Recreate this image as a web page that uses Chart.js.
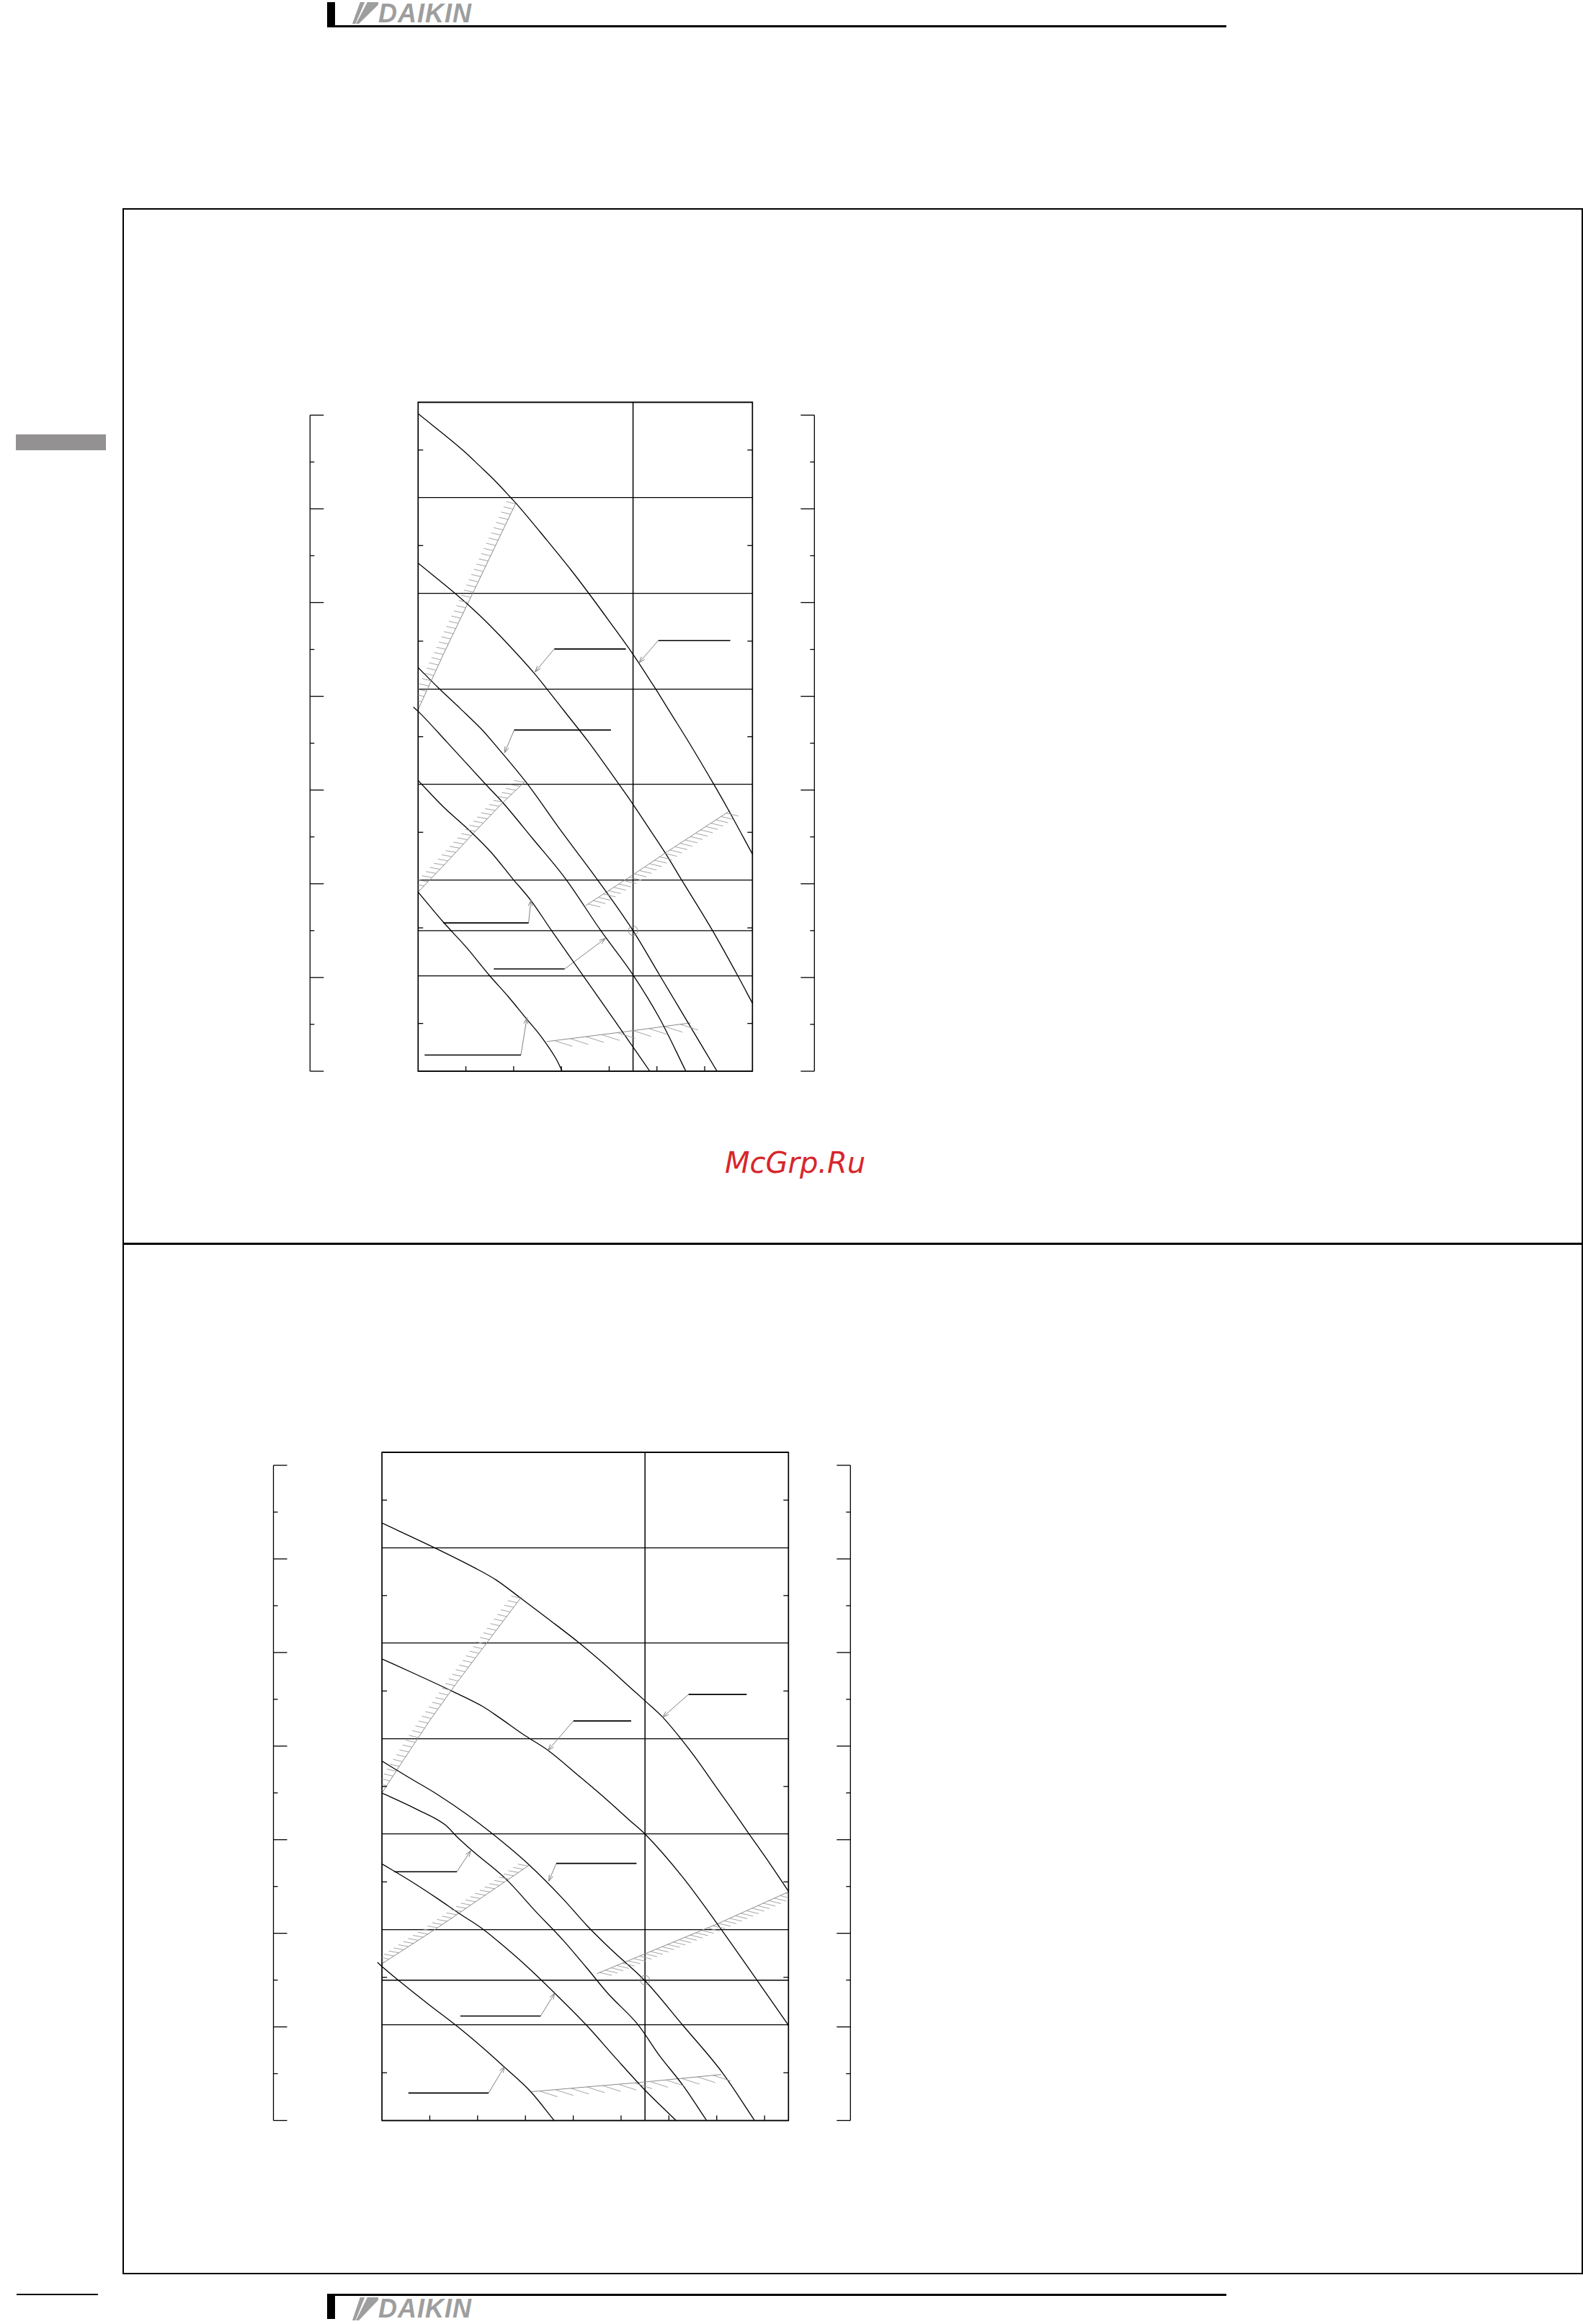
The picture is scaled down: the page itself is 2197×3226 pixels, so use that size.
<!DOCTYPE html>
<html><head><meta charset="utf-8">
<script src="https://cdn.jsdelivr.net/npm/chart.js@4.4.1/dist/chart.umd.min.js"></script>
<style>
html,body{margin:0;padding:0;background:#fff}
body{position:relative;width:2197px;height:3226px;overflow:hidden}
.abs{position:absolute}
.frame{position:absolute;border:2.5px solid #000;box-sizing:border-box}
.logoTxt{position:absolute;font-family:'Liberation Sans',Arial,sans-serif;font-weight:bold;font-style:italic;color:#9e9e9e;font-size:36px;line-height:36px;letter-spacing:1px}
.mark{position:absolute;background:#9e9e9e}
canvas{position:absolute}
</style></head><body>

<!-- header -->
<div class="abs" style="left:454px;top:3px;width:11px;height:35px;background:#000"></div>
<div class="abs" style="left:454px;top:35px;width:1248px;height:3px;background:#000"></div>
<div class="mark" style="left:489px;top:3px;width:36px;height:30px;clip-path:polygon(30% 0,48% 0,12% 100%,0 100%)"></div>
<div class="mark" style="left:489px;top:3px;width:36px;height:30px;clip-path:polygon(58% 0,100% 0,100% 12%,25% 100%,14% 100%)"></div>
<div class="logoTxt" style="left:525px;top:1px">DAIKIN</div>

<!-- side tab -->
<div class="abs" style="left:22px;top:603px;width:125px;height:22px;background:#939191"></div>

<!-- frames -->
<div class="frame" style="left:170px;top:289px;width:2027px;height:1439px"></div>
<div class="frame" style="left:170px;top:1725px;width:2027px;height:1432px"></div>

<!-- watermark -->
<div class="abs" style="left:1006px;top:1594px;font:italic 40px 'DejaVu Sans',sans-serif;line-height:40px;color:#d7262b">McGrp.Ru</div>

<!-- footer -->
<div class="abs" style="left:23px;top:3184px;width:113px;height:2px;background:#000"></div>
<div class="abs" style="left:454px;top:3184px;width:1248px;height:3px;background:#000"></div>
<div class="abs" style="left:454px;top:3185px;width:11px;height:34px;background:#000"></div>
<div class="mark" style="left:489px;top:3189px;width:36px;height:32px;clip-path:polygon(30% 0,48% 0,12% 100%,0 100%)"></div>
<div class="mark" style="left:489px;top:3189px;width:36px;height:32px;clip-path:polygon(58% 0,100% 0,100% 12%,25% 100%,14% 100%)"></div>
<div class="logoTxt" style="left:525px;top:3187px">DAIKIN</div>

<canvas id="c1" width="760" height="970" style="left:400px;top:540px"></canvas>
<canvas id="c2" width="860" height="960" style="left:340px;top:2000px"></canvas>

<script>
// ---------- axis definitions ----------
const Y_MAX = 350;                    // Pa
const yGridStep = 50;
const halfTicks = [25, 75, 125, 175, 225, 275, 325];
const aqTicks = [0, 2.5, 5, 7.5, 10, 12.5, 15, 17.5, 20, 22.5, 25, 27.5, 30, 32.5, 35];
const aqMajor = [0, 5, 10, 15, 20, 25, 30, 35];
const PA_PER_MMAQ = 9.80665;
const ratedPressure = 73.5;

// ---------- chart 1 ----------
const c1XMax = 7;
const c1BottomTicks = [1, 2, 3, 4, 5, 6];
const c1RatedFlow = 4.5;
const c1CurveA = [[0,344.0],[0.955,324.5],[1.282,316.8],[1.634,308.3],[1.961,299.5],[2.086,296.1],[2.690,278.0],[3.193,262.5],[3.595,249.3],[3.997,235.6],[4.50,218.1],[4.952,200.8],[5.304,186.7],[5.656,172.6],[6.184,150.4],[6.486,137.2],[7.0,113.6]];
const c1CurveB = [[0,265.8],[0.779,249.9],[1.031,244.4],[1.383,236.2],[1.885,223.3],[2.438,208.0],[2.690,200.2],[3.092,187.4],[3.570,172.2],[4.198,150.4],[4.50,139.6],[4.902,124.5],[5.204,113.0],[5.505,100.6],[6.159,73.8],[6.687,50.2],[7.0,35.6]];
const c1CurveC = [[0,211.2],[0.427,200.5],[0.880,189.8],[1.332,178.8],[1.584,171.6],[2.288,150.3],[2.991,125.8],[3.746,100.5],[4.495,73.7],[5.053,50.4],[5.656,25.2],[6.259,0]];
const c1CurveD = [[-0.10,190.5],[0,188.3],[0.603,172.2],[1.408,150.3],[1.785,140.2],[2.388,122.0],[3.092,100.5],[3.821,73.7],[4.50,50.4],[5.053,27.8],[5.606,0]];
const c1CurveE = [[0,152.1],[0.528,138.3],[1.081,125.8],[1.533,114.4],[1.986,100.5],[2.363,89.3],[2.790,73.7],[3.444,50.4],[4.148,25.3],[4.852,0]];
const c1CurveF = [[0,93.7],[0.528,78.0],[1.031,64.2],[1.483,50.4],[1.885,39.1],[2.237,28.4],[2.589,17.7],[2.891,6.4],[3.017,0]];
const c1Surge1 = [[0,189.2],[0.528,218.1],[1.181,252.0],[2.046,297.2]];
const c1Surge2 = [[0,93.7],[0.578,108.8],[1.181,125.1],[1.785,140.8],[2.237,151.5]];
const c1Surge3 = [[3.504,86.6],[4.5,102.8],[5.153,113.8],[5.807,124.5],[6.536,136.4]];
const c1Surge4 = [[2.690,15.5],[4.399,20.9],[5.706,25.3]];
const c1LabelA = [[5.028,225.3],[6.536,225.3]], c1PointerA = [[5.028,225.3],[4.625,213.7]];
const c1LabelB = [[2.851,220.9],[4.349,220.9]], c1PointerB = [[2.851,220.9],[2.448,208.9]];
const c1LabelC = [[2.011,178.5],[4.037,178.5]], c1PointerC = [[2.011,178.5],[1.810,166.6]];
const c1LabelD = [[1.584,53.5],[3.067,53.5]],   c1PointerD = [[3.067,53.5],[3.922,69.5]];
const c1LabelE = [[0.528,77.6],[2.313,77.6]],   c1PointerE = [[2.313,77.6],[2.363,89.6]];
const c1LabelF = [[0.136,8.5],[2.152,8.5]],     c1PointerF = [[2.152,8.5],[2.278,28.0]];

// ---------- chart 2 ----------
const c2XMax = 8.5;
const c2BottomTicks = [1, 2, 3, 4, 5, 6, 7, 8];
const c2RatedFlow = 5.5;
const c2CurveA = [[0,313.0],[1.104,300.0],[1.940,289.5],[2.386,283.2],[2.888,273.9],[3.501,262.3],[4.114,250.4],[4.671,238.6],[5.228,226.0],[5.507,219.7],[5.869,211.3],[6.260,199.7],[6.566,189.7],[6.901,177.8],[7.290,164.0],[7.680,150.0],[8.10,135.0],[8.5,120.1]];
const c2CurveB = [[0,241.8],[0.714,233.7],[1.494,224.6],[2.107,216.9],[2.442,211.3],[2.999,201.5],[3.473,193.9],[4.113,180.6],[4.671,168.7],[5.172,157.4],[5.507,149.9],[6.287,127.5],[7.012,103.0],[7.848,73.3],[8.5,49.9]];
const c2CurveC = [[0,188.3],[0.547,179.9],[1.160,170.8],[1.773,160.4],[2.330,149.8],[3.082,133.8],[3.779,116.3],[4.280,102.3],[4.782,89.8],[5.507,73.0],[6.287,50.0],[7.123,24.9],[7.792,0]];
const c2CurveD = [[0,171.6],[0.714,163.2],[1.327,154.8],[1.550,149.1],[1.885,141.4],[2.609,126.1],[3.222,109.3],[3.779,94.7],[4.280,80.0],[4.726,66.5],[5.367,49.8],[5.785,34.6],[6.287,18.6],[6.789,0]];
const c2CurveE = [[0,134.4],[0.602,125.4],[1.160,116.3],[1.606,108.6],[2.108,100.3],[2.553,91.2],[2.999,81.4],[3.612,66.7],[4.281,49.8],[4.894,32.5],[5.451,17.2],[6.148,0]];
const c2CurveF = [[-0.094,82.8],[0,80.7],[0.435,71.6],[0.993,60.5],[1.550,49.8],[2.108,38.1],[2.553,28.1],[3.110,15.1],[3.601,0]];
const c2Surge1 = [[0,171.6],[0.435,188.3],[0.993,209.3],[1.55,228.8],[2.219,251.1],[2.915,274.2]];
const c2Surge2 = [[0,82.1],[1.160,100.9],[2.386,121.9],[3.082,133.8]];
const c2Surge3 = [[4.493,76.9],[5.507,87.4],[7.012,103.0],[8.5,119.8]];
const c2Surge4 = [[3.127,15.1],[5.507,20.2],[7.096,24.1]];
const c2LabelA = [[6.410,223.2],[7.625,223.2]], c2PointerA = [[6.410,223.2],[5.869,211.3]];
const c2LabelB = [[4.002,209.3],[5.211,209.3]], c2PointerB = [[4.002,209.3],[3.473,193.9]];
const c2LabelC = [[3.645,134.7],[5.323,134.7]], c2PointerC = [[3.645,134.7],[3.489,125.4]];
const c2LabelD = [[0.257,130.3],[1.567,130.3]], c2PointerD = [[1.567,130.3],[1.856,141.4]];
const c2LabelE = [[1.639,54.7],[3.317,54.7]],   c2PointerE = [[3.317,54.7],[3.612,66.7]];
const c2LabelF = [[0.552,14.4],[2.230,14.4]],   c2PointerF = [[2.230,14.4],[2.564,28.3]];

// ---------- helpers ----------
const P = a => a.map(([x, y]) => ({x, y}));
const curveDS = (a, clip) => ({data: P(a), borderColor: '#000', borderWidth: 1.3, pointRadius: 0, cubicInterpolationMode: 'monotone', fill: false, clip: clip ? false : undefined});
const surgeDS = (a, hatch) => ({data: P(a), borderColor: '#8a8a8a', borderWidth: 1, pointRadius: 0, tension: 0, fill: false, hatch});
const labelDS = a => ({data: P(a), borderColor: '#000', borderWidth: 1.6, pointRadius: 0, tension: 0, fill: false});
const pointerDS = a => ({data: P(a), borderColor: '#808080', borderWidth: 1, pointRadius: 0, tension: 0, fill: false, arrow: true});

function seg(ctx, x1, y1, x2, y2) { ctx.beginPath(); ctx.moveTo(x1, y1); ctx.lineTo(x2, y2); ctx.stroke(); }

const decor = {
  id: 'decor',
  beforeDatasetsDraw(chart, args, o) {
    const {ctx, chartArea: a, scales: {x, y}} = chart;
    ctx.save();
    ctx.strokeStyle = '#000'; ctx.lineWidth = 1.3;
    const ry = y.getPixelForValue(o.ratedPressure);
    seg(ctx, a.left, ry, a.right, ry);
    ctx.lineWidth = 1.5;
    const rx = x.getPixelForValue(o.ratedFlow);
    seg(ctx, rx, a.top, rx, a.bottom);
    ctx.restore();
  },
  afterDatasetsDraw(chart, args, o) {
    const {ctx, chartArea: a, scales: {x, y, aq}} = chart;
    ctx.save();
    ctx.strokeStyle = '#000'; ctx.lineWidth = 1.7;
    ctx.strokeRect(a.left, a.top, a.right - a.left, a.bottom - a.top);
    ctx.lineWidth = 1.3;
    for (const v of o.halfTicks) {
      const py = y.getPixelForValue(v);
      seg(ctx, a.left, py, a.left + 7, py);
      seg(ctx, a.right, py, a.right - 7, py);
    }
    for (const v of o.bottomTicks) {
      const px = x.getPixelForValue(v);
      seg(ctx, px, a.bottom, px, a.bottom - 7);
    }
    // side pressure bars (mmAq)
    const lx = a.left - o.barGapL, rxb = a.right + o.barGapR;
    const top = aq.getPixelForValue(o.aqTicks[o.aqTicks.length - 1]);
    const bot = aq.getPixelForValue(0);
    seg(ctx, lx, top, lx, bot); seg(ctx, rxb, top, rxb, bot);
    for (const v of o.aqTicks) {
      const py = aq.getPixelForValue(v);
      const len = o.aqMajor.includes(v) ? 19 : 6;
      seg(ctx, lx, py, lx + len, py);
      seg(ctx, rxb, py, rxb - len, py);
    }
    // rated point circle
    ctx.strokeStyle = '#8a8a8a'; ctx.lineWidth = 1;
    ctx.beginPath();
    ctx.arc(x.getPixelForValue(o.ratedFlow), y.getPixelForValue(o.ratedPressure), 6.5, 0, Math.PI * 2);
    ctx.stroke();
    // hatching (clipped to plot) + arrowheads
    chart.data.datasets.forEach((ds, i) => {
      const pts = chart.getDatasetMeta(i).data.map(e => ({x: e.x, y: e.y}));
      if (ds.hatch) {
        const h = ds.hatch;
        ctx.save();
        ctx.beginPath(); ctx.rect(a.left, a.top, a.right - a.left, a.bottom - a.top); ctx.clip();
        ctx.strokeStyle = '#9a9a9a'; ctx.lineWidth = 0.9;
        let carry = h.spacing / 2;
        for (let k = 0; k < pts.length - 1; k++) {
          const p = pts[k], q = pts[k + 1];
          const L = Math.hypot(q.x - p.x, q.y - p.y);
          let t = carry;
          while (t <= L) {
            const sx = p.x + (q.x - p.x) * t / L, sy = p.y + (q.y - p.y) * t / L;
            seg(ctx, sx, sy, sx + h.dx, sy + h.dy);
            t += h.spacing;
          }
          carry = t - L;
        }
        ctx.restore();
      }
      if (ds.arrow) {
        const p = pts[pts.length - 2], q = pts[pts.length - 1];
        const ang = Math.atan2(q.y - p.y, q.x - p.x);
        ctx.strokeStyle = '#808080'; ctx.lineWidth = 1;
        for (const s of [-1, 1]) {
          const b = ang + Math.PI + s * 0.33;
          seg(ctx, q.x, q.y, q.x + 9 * Math.cos(b), q.y + 9 * Math.sin(b));
        }
      }
    });
    ctx.restore();
  }
};

function makeChart(id, xMax, curves, surges, labels, pointers, pad, extra) {
  const datasets = [...curves, ...surges, ...labels.map(labelDS), ...pointers.map(pointerDS)];
  return new Chart(document.getElementById(id), {
    type: 'line',
    data: {datasets},
    options: {
      responsive: false, animation: false, devicePixelRatio: 1,
      layout: {padding: pad},
      events: [],
      plugins: {legend: {display: false}, tooltip: {enabled: false}, decor: extra},
      scales: {
        x: {type: 'linear', min: 0, max: xMax, grid: {display: false, drawTicks: false}, border: {display: false}, ticks: {display: false}, afterFit: s => { s.height = 0; }},
        y: {type: 'linear', min: 0, max: Y_MAX, grid: {color: '#000', lineWidth: 1.3, drawTicks: false}, border: {display: false}, ticks: {display: false, stepSize: yGridStep}, afterFit: s => { s.width = 0; }},
        aq: {type: 'linear', position: 'left', display: false, min: 0, max: Y_MAX / PA_PER_MMAQ}
      }
    },
    plugins: [decor]
  });
}

const hLeft1 = {spacing: 8, dx: -13, dy: -3};
const hLeft2 = {spacing: 8, dx: -14, dy: -2.5};
const hRight = {spacing: 8.5, dx: 17, dy: 4};
const hBottom = {spacing: 22, dx: 25, dy: 8};

makeChart('c1', c1XMax,
  [curveDS(c1CurveA), curveDS(c1CurveB), curveDS(c1CurveC), curveDS(c1CurveD, true), curveDS(c1CurveE), curveDS(c1CurveF)],
  [surgeDS(c1Surge1, hLeft1), surgeDS(c1Surge2, hLeft2), surgeDS(c1Surge3, hRight), surgeDS(c1Surge4, hBottom)],
  [c1LabelA, c1LabelB, c1LabelC, c1LabelD, c1LabelE, c1LabelF],
  [c1PointerA, c1PointerB, c1PointerC, c1PointerD, c1PointerE, c1PointerF],
  {left: 180.3, top: 18.3, right: 115.7, bottom: 23},
  {ratedFlow: c1RatedFlow, ratedPressure, halfTicks, bottomTicks: c1BottomTicks, aqTicks, aqMajor, barGapL: 150, barGapR: 86});

makeChart('c2', c2XMax,
  [curveDS(c2CurveA), curveDS(c2CurveB), curveDS(c2CurveC), curveDS(c2CurveD), curveDS(c2CurveE), curveDS(c2CurveF, true)],
  [surgeDS(c2Surge1, hLeft1), surgeDS(c2Surge2, hLeft2), surgeDS(c2Surge3, hRight), surgeDS(c2Surge4, hBottom)],
  [c2LabelA, c2LabelB, c2LabelC, c2LabelD, c2LabelE, c2LabelF],
  [c2PointerA, c2PointerB, c2PointerC, c2PointerD, c2PointerE, c2PointerF],
  {left: 190.1, top: 16.1, right: 105.7, bottom: 16.5},
  {ratedFlow: c2RatedFlow, ratedPressure, halfTicks, bottomTicks: c2BottomTicks, aqTicks, aqMajor, barGapL: 150.6, barGapR: 86});
</script>
</body></html>
